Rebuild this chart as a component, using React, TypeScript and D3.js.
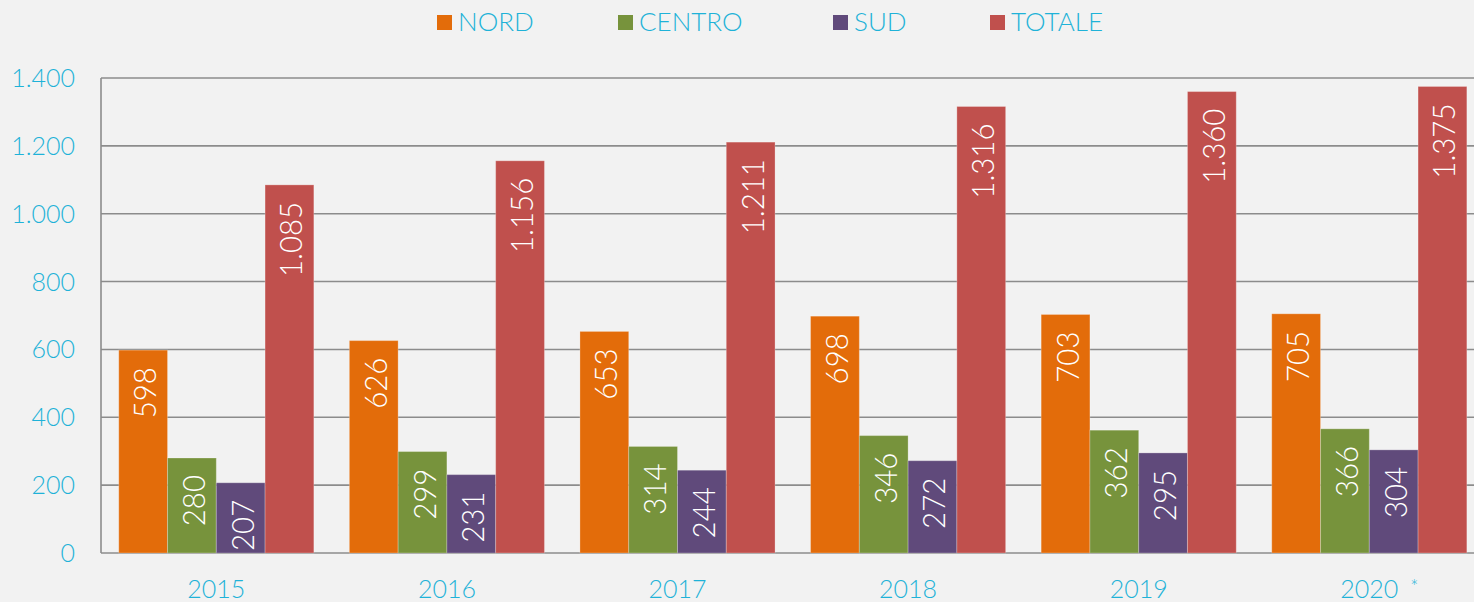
import React from "react";
import * as d3 from "d3";

const years = ["2015", "2016", "2017", "2018", "2019", "2020"];
const yearSuffix = ["", "", "", "", "", "*"];
const seriesNames = ["NORD", "CENTRO", "SUD", "TOTALE"];
const seriesColors = ["#e36c0a", "#77933c", "#604a7b", "#c0504d"];
const nord = [598, 626, 653, 698, 703, 705];
const centro = [280, 299, 314, 346, 362, 366];
const sud = [207, 231, 244, 272, 295, 304];
const totale = [1085, 1156, 1211, 1316, 1360, 1375];
const yTicks = [0, 200, 400, 600, 800, 1000, 1200, 1400];

const W = 1474;
const H = 602;
const FONT = "Lato, 'Open Sans', sans-serif";
const TEXT_COLOR = "#1fb2d8";

function fmt(v: number) {
  return d3.format(",")(v).replace(/,/g, ".");
}

export default function App() {
  const series = [nord, centro, sud, totale];
  const x0 = d3.scaleBand<string>().domain(years).range([101, 101 + 6 * 230.6]).paddingInner(0.154).paddingOuter(0.077);
  const x1 = d3.scaleBand<string>().domain(seriesNames).range([0, x0.bandwidth()]).padding(0);
  const y = d3.scaleLinear().domain([0, 1400]).range([553, 78]);
  const legendX = [437, 618, 833, 990];

  return (
    <div style={{ position: "fixed", left: 0, top: 0, width: W, height: H, background: "#f2f2f2" }}>
      <svg width={W} height={H} style={{ display: "block" }} fontFamily={FONT}>
        <rect x={0} y={0} width={W} height={H} fill="#f2f2f2" />
        {/* legend */}
        {seriesNames.map((s, i) => (
          <g key={s}>
            <rect x={legendX[i]} y={15} width={15} height={15} fill={seriesColors[i]} />
            <text x={legendX[i] + 21} y={31} fontSize={26} fontWeight={300} fill={TEXT_COLOR}>
              {s}
            </text>
          </g>
        ))}
        {/* grid */}
        {yTicks.map((t) => (
          <line key={t} x1={101} x2={W} y1={y(t)} y2={y(t)} stroke="#8c8c8c" strokeWidth={1.6} />
        ))}
        <line x1={101} x2={101} y1={y(1400)} y2={y(0)} stroke="#8c8c8c" strokeWidth={1.6} />
        {yTicks.map((t) => (
          <text key={t} x={75} y={y(t) + 9} textAnchor="end" fontSize={25} fontWeight={300} fill={TEXT_COLOR}>
            {fmt(t)}
          </text>
        ))}
        {/* bars */}
        {years.map((yr, gi) => (
          <g key={yr} transform={`translate(${x0(yr)},0)`}>
            {seriesNames.map((s, si) => {
              const v = series[si][gi];
              const bx = x1(s)!;
              const bw = x1.bandwidth();
              const top = y(v);
              return (
                <g key={s}>
                  <rect x={bx} y={top} width={bw} height={y(0) - top} fill={seriesColors[si]} stroke="rgba(255,255,255,0.25)" strokeWidth={1} />
                  <text
                    transform={`translate(${bx + bw / 2 + 13},${top + 17}) rotate(-90) scale(0.95,1)`}
                    textAnchor="end"
                    fontSize={31}
                    fontWeight={300}
                    fill="#ffffff"
                  >
                    {fmt(v)}
                  </text>
                </g>
              );
            })}
          </g>
        ))}
        {/* x labels */}
        {years.map((yr, i) => (
          <g key={yr}>
            <text x={x0(yr)! + x0.bandwidth() / 2} y={598} textAnchor="middle" fontSize={25} fontWeight={300} fill={TEXT_COLOR}>
              {yr}
            </text>
            {yearSuffix[i] && (
              <text x={x0(yr)! + x0.bandwidth() / 2 + 41} y={594} fontSize={19} fontWeight={300} fill={TEXT_COLOR}>
                {yearSuffix[i]}
              </text>
            )}
          </g>
        ))}
      </svg>
    </div>
  );
}
